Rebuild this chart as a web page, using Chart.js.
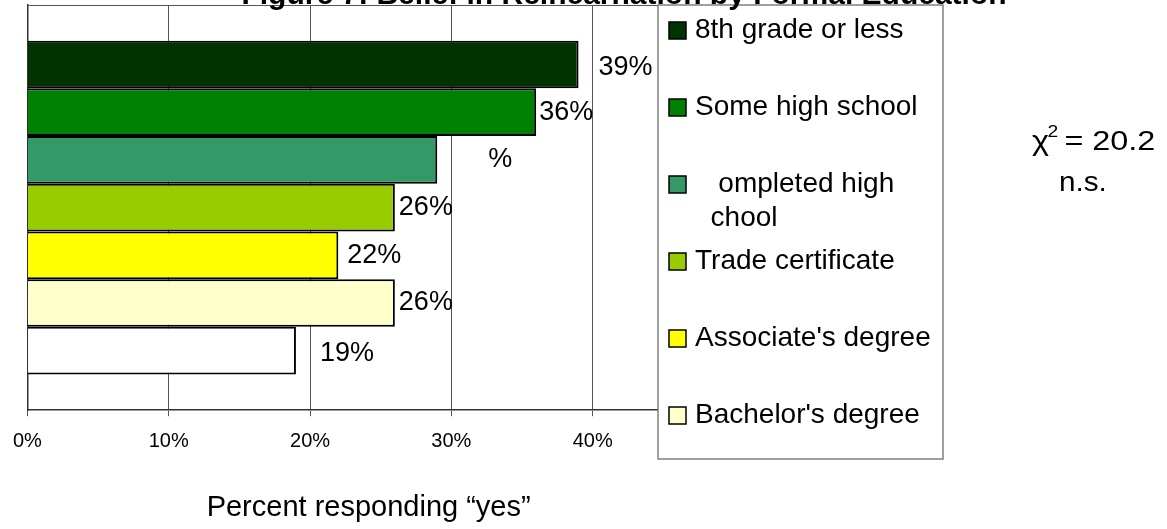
<!DOCTYPE html>
<html>
<head>
<meta charset="utf-8">
<script src="https://cdn.jsdelivr.net/npm/chart.js@4"></script>
<style>
  body { margin: 0; background: #fff; }
  #wrap { width: 1167px; height: 529px; }
</style>
</head>
<body>
<div id="wrap"><canvas id="eduChart" width="1167" height="529"></canvas></div>
<script>
// data
const seriesNames = ['8th grade or less', 'Some high school', 'Completed high school', 'Trade certificate', "Associate's degree", "Bachelor's degree", ''];
const legendLines = [['8th grade or less'], ['Some high school'], ['   ompleted high', '  chool'], ['Trade certificate'], ["Associate's degree"], ["Bachelor's degree"]];
const values = [39, 36, 29, 26, 22, 26, 19];
const valueLabels = ['39%', '36%', '%', '26%', '22%', '26%', '19%'];
const xTicks = [0, 10, 20, 30, 40, 50];
const barColors = ['#003300', '#008000', '#339966', '#99CC00', '#FFFF00', '#FFFFCC', '#FFFFFF'];

const FONT = "'Liberation Sans', Arial, sans-serif";
Chart.defaults.font.family = FONT;
Chart.defaults.color = '#000';

// labels next to bar ends (offsets are style only)
const barLabels = {
    id: 'barLabels',
    afterDatasetsDraw(chart, args, opts) {
        const ctx = chart.ctx;
        ctx.save();
        ctx.font = opts.font;
        ctx.fillStyle = '#000';
        ctx.textBaseline = 'middle';
        chart.data.datasets.forEach((ds, i) => {
            const el = chart.getDatasetMeta(i).data[0];
            ctx.fillText(valueLabels[i], el.x + opts.dx[i], el.y + opts.dy[i]);
        });
        ctx.restore();
    }
};

// top line of the plot area frame
const plotFrame = {
    id: 'plotFrame',
    beforeDatasetsDraw(chart) {
        const { ctx, chartArea } = chart;
        ctx.save();
        ctx.strokeStyle = '#555';
        ctx.lineWidth = 1;
        ctx.beginPath();
        ctx.moveTo(chartArea.left, chartArea.top + 0.5);
        ctx.lineTo(chartArea.right, chartArea.top + 0.5);
        ctx.stroke();
        ctx.restore();
    }
};

// boxed legend over the right part of the plot, plus title and stats note
const overlay = {
    id: 'overlay',
    afterDraw(chart, args, opts) {
        const ctx = chart.ctx;
        const b = opts.box;
        ctx.save();
        ctx.fillStyle = '#fff';
        ctx.fillRect(b.x, b.y, b.w, b.h);
        ctx.strokeStyle = '#808080';
        ctx.lineWidth = 1.5;
        ctx.strokeRect(b.x, b.y, b.w, b.h);

        ctx.font = opts.legendFont;
        ctx.textBaseline = 'middle';
        legendLines.forEach((lines, i) => {
            const cy = b.y + opts.firstY + i * opts.stepY;
            ctx.fillStyle = barColors[i];
            ctx.fillRect(b.x + 11, cy - 8, 17, 17);
            ctx.strokeStyle = '#000';
            ctx.lineWidth = 1.5;
            ctx.strokeRect(b.x + 11, cy - 8, 17, 17);
            ctx.fillStyle = '#000';
            lines.forEach((t, j) => {
                ctx.fillText(t, b.x + 37, cy + j * opts.lineH);
            });
        });

        // chart title, cut by the top edge
        ctx.font = 'bold 30px ' + FONT;
        ctx.textAlign = 'center';
        ctx.textBaseline = 'alphabetic';
        ctx.fillText('Figure 7: Belief in Reincarnation by Formal Education', 624, 4);

        // chi-square note (text is drawn a bit wide, as in the original)
        ctx.textAlign = 'left';
        ctx.save();
        ctx.translate(1032, 150);
        ctx.scale(1.2, 1);
        ctx.font = '27px ' + FONT;
        ctx.fillText('\u03C7', 0, 0);
        ctx.font = '16px ' + FONT;
        ctx.fillText('2', 13, -13);
        ctx.font = '27px ' + FONT;
        ctx.fillText('= 20.2', 27, 0);
        ctx.restore();
        ctx.save();
        ctx.translate(1059, 191);
        ctx.scale(1.1, 1);
        ctx.font = '27px ' + FONT;
        ctx.fillText('n.s.', 0, 0);
        ctx.restore();
        ctx.restore();
    }
};

const ctx = document.getElementById('eduChart').getContext('2d');
const eduChart = new Chart(ctx, {
    type: 'bar',
    data: {
        labels: [''],
        datasets: values.map((v, i) => ({
            label: seriesNames[i],
            data: [v],
            backgroundColor: barColors[i],
            borderColor: '#000',
            borderWidth: 2,
            barPercentage: 1,
            categoryPercentage: 0.824
        }))
    },
    options: {
        indexAxis: 'y',
        responsive: false,
        animation: false,
        devicePixelRatio: 1,
        layout: { padding: { left: 18, right: 433, top: 5, bottom: 0 } },
        plugins: {
            legend: { display: false },
            tooltip: { enabled: false },
            barLabels: {
                font: '27px ' + FONT,
                dx: [20, 3, 51, 4, 9, 4, 24],
                dy: [3, 0, 0, 0, 0, 0, 3]
            },
            overlay: {
                box: { x: 658, y: 5, w: 285, h: 454 },
                legendFont: '28px ' + FONT,
                firstY: 25,
                stepY: 77,
                lineH: 34
            }
        },
        scales: {
            x: {
                min: 0,
                max: 50,
                afterBuildTicks: (scale) => { scale.ticks = xTicks.map(v => ({ value: v })); },
                ticks: {
                    callback: (v) => v + '%',
                    font: { size: 20 },
                    padding: 13,
                    maxRotation: 0
                },
                grid: { color: '#555', tickLength: 6, drawTicks: true },
                border: { display: true, color: '#333', width: 1.5 },
                title: {
                    display: true,
                    // trailing spaces nudge the centred title left like the original
                    text: 'Percent responding \u201Cyes\u201D   ',
                    font: { size: 29 },
                    padding: { top: 24, bottom: 4 }
                }
            },
            y: {
                ticks: { display: false },
                grid: { display: false, drawTicks: false },
                border: { display: true, color: '#333', width: 1.5 }
            }
        }
    },
    plugins: [plotFrame, barLabels, overlay]
});
</script>
</body>
</html>
